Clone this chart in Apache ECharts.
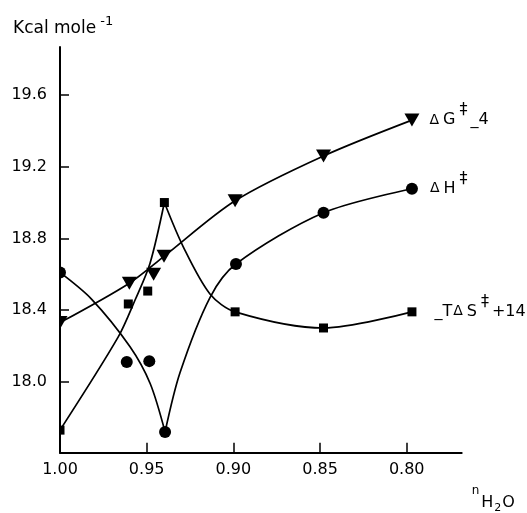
<!DOCTYPE html>
<html>
<head>
<meta charset="utf-8">
<script src="https://cdn.jsdelivr.net/npm/echarts@6/dist/echarts.min.js"></script>
<style>
  html, body { margin: 0; padding: 0; background: #fff; }
  #chart { width: 527px; height: 513px; }
</style>
</head>
<body>
<div id="chart"></div>
<script>
// mole fraction of water on x (reversed), kcal/mol on y
const xTicks = [1.00, 0.95, 0.90, 0.85, 0.80];
const yTicks = [18.0, 18.4, 18.8, 19.2, 19.6];

// measured points
const gPoints = [[1.00, 18.33], [0.96, 18.55], [0.946, 18.60], [0.94, 18.70], [0.899, 19.01], [0.848, 19.26], [0.797, 19.46]];
const hPoints = [[1.00, 18.61], [0.9615, 18.11], [0.9485, 18.115], [0.9394, 17.72], [0.8985, 18.657], [0.848, 18.943], [0.797, 19.077]];
const sPoints = [[1.00, 17.73], [0.9606, 18.434], [0.9494, 18.506], [0.9398, 19.00], [0.899, 18.39], [0.848, 18.30], [0.797, 18.39]];

// hand drawn curves
const gCurve = [[1.00, 18.33], [0.96, 18.55], [0.94, 18.70], [0.899, 19.01], [0.848, 19.26], [0.797, 19.46]];
const hCurveLeft = [[1.00, 18.61], [0.9817, 18.46], [0.9596, 18.195], [0.948, 17.99], [0.9394, 17.72]];
const hCurveRight = [[0.9394, 17.72], [0.9308, 18.05], [0.9135, 18.47], [0.8985, 18.657], [0.848, 18.943], [0.797, 19.077]];
const sCurveLeft = [[1.00, 17.73], [0.9664, 18.25], [0.9567, 18.456], [0.9481, 18.66], [0.9398, 19.00]];
const sCurveRight = [[0.9398, 19.00], [0.9289, 18.753], [0.9135, 18.49], [0.899, 18.39], [0.848, 18.30], [0.797, 18.39]];

const FONT = "DejaVu Sans";

const labelRich = {
  b: { fontFamily: FONT, fontSize: 16, color: "#000", padding: [0, 1, 0, 1] },
  d: { fontFamily: FONT, fontSize: 14, color: "#000", padding: [0, 3, 0, 0] },
  s: { fontFamily: FONT, fontSize: 16, color: "#000", padding: [0, 2, 20, 3] }
};

function curve(data) {
  return {
    type: "line",
    data: data,
    smooth: 0.3,
    showSymbol: false,
    symbol: "none",
    lineStyle: { color: "#000", width: 1.7 },
    silent: true,
    z: 2
  };
}

function marks(data, symbol, size, rotate, text, dist) {
  return {
    type: "scatter",
    symbol: symbol,
    symbolSize: size,
    symbolRotate: rotate,
    itemStyle: { color: "#000", opacity: 1 },
    z: 3,
    data: data.map((p, i) => {
      if (i !== data.length - 1) return p;
      return {
        value: p,
        label: {
          show: true,
          position: "right",
          distance: dist,
          color: "#000",
          formatter: text,
          rich: labelRich
        }
      };
    })
  };
}

const chart = echarts.init(document.getElementById("chart"));

chart.setOption({
  animation: false,
  backgroundColor: "#fff",
  grid: { left: 60, right: 65.3, top: 47, bottom: 60.3, outerBoundsMode: "none", containLabel: false },
  xAxis: {
    type: "value",
    inverse: true,
    min: 0.7683,
    max: 1.0,
    z: 10,
    name: "{n|n}{h|H}{u|2}{h|O}",
    // inverse axis: the low end (start) is on the right
    nameLocation: "start",
    nameGap: 10,
    nameTextStyle: {
      align: "left",
      verticalAlign: "top",
      padding: [32, 0, 0, 0],
      rich: {
        n: { fontFamily: FONT, fontSize: 12, color: "#000", padding: [0, 2, 24, 0] },
        h: { fontFamily: FONT, fontSize: 16, color: "#000" },
        u: { fontFamily: FONT, fontSize: 11, color: "#000", padding: [10, 1, 0, 1] }
      }
    },
    axisLine: { show: true, onZero: false, lineStyle: { color: "#000", width: 2 } },
    axisTick: { show: true, inside: true, length: 10, customValues: xTicks, lineStyle: { color: "#000", width: 1.5 } },
    axisLabel: {
      customValues: xTicks,
      formatter: (v) => v.toFixed(2),
      margin: 9,
      fontFamily: FONT,
      fontSize: 16,
      color: "#000"
    },
    splitLine: { show: false }
  },
  yAxis: {
    type: "value",
    min: 17.604,
    max: 19.868,
    z: 10,
    name: "{a|Kcal mole}{s| -1}",
    nameLocation: "end",
    nameGap: 5,
    nameTextStyle: {
      align: "left",
      verticalAlign: "bottom",
      padding: [0, 0, 0, -47],
      rich: {
        a: { fontFamily: FONT, fontSize: 17, color: "#000" },
        s: { fontFamily: FONT, fontSize: 13, color: "#000", padding: [0, 0, 14, 0] }
      }
    },
    axisLine: { show: true, lineStyle: { color: "#000", width: 2 } },
    axisTick: { show: true, inside: true, length: 9, customValues: yTicks, lineStyle: { color: "#000", width: 1.5 } },
    axisLabel: {
      customValues: yTicks,
      formatter: (v) => v.toFixed(1),
      margin: 13,
      fontFamily: FONT,
      fontSize: 16,
      color: "#000"
    },
    splitLine: { show: false }
  },
  // white mask so markers sitting on the y axis look half hidden, as in the figure
  graphic: [{
    type: "rect",
    left: 0,
    top: 30,
    z: 5,
    silent: true,
    shape: { width: 59, height: 440 },
    style: { fill: "#fff" }
  }],
  series: [
    curve(gCurve),
    curve(hCurveLeft),
    curve(hCurveRight),
    curve(sCurveLeft),
    curve(sCurveRight),
    marks(gPoints, "triangle", [15, 13], 180, "{d|Δ}{b|G}{s|‡}{b|_4}", 10),
    marks(hPoints, "circle", 12, 0, "{d|Δ}{b|H}{s|‡}", 12),
    marks(sPoints, "rect", 9, 0, "{b|_T}{d|Δ}{b|S}{s|‡}{b|+14}", 17)
  ]
});
</script>
</body>
</html>
